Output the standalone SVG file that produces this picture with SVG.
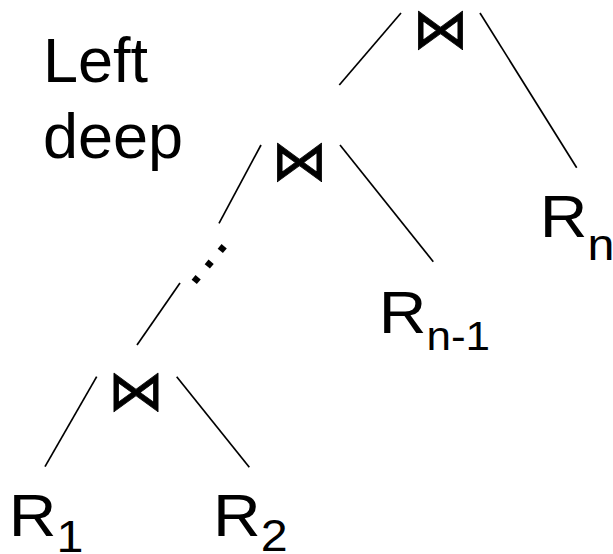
<svg xmlns="http://www.w3.org/2000/svg" width="613" height="554" viewBox="0 0 613 554">
<style>
.t{font-family:"Liberation Sans",Arial,sans-serif;fill:#000}
.j{font-family:"DejaVu Sans",sans-serif;font-size:56px;fill:#000;stroke:#000;stroke-width:0.8;stroke-linejoin:round;text-anchor:middle}
.e{stroke:#000;stroke-width:1.7;fill:none}
</style>
<rect width="613" height="554" fill="#fff"/>
<g id="label">
<text class="t" x="43" y="82" font-size="63">Left</text>
<text class="t" x="43" y="158" font-size="63">deep</text>
</g>
<g id="connectors">
<line class="e" x1="401" y1="13" x2="339.3" y2="85"/>
<line class="e" x1="480" y1="13" x2="576.7" y2="167.7"/>
<line class="e" x1="261" y1="145" x2="219" y2="223.3"/>
<line class="e" x1="340" y1="145" x2="433.3" y2="261.7"/>
<line class="e" x1="180" y1="283" x2="137" y2="345"/>
<line class="e" x1="96.7" y1="376.7" x2="45" y2="466.7"/>
<line class="e" x1="176.7" y1="376.7" x2="249.3" y2="467.3"/>
</g>
<g id="join3"><text class="j" x="440.5" y="48">⋈</text></g>
<g id="join2"><text class="j" x="299.5" y="179.5">⋈</text></g>
<g id="join1"><text class="j" x="136" y="410">⋈</text></g>
<g id="dots"><text class="t" font-size="64" text-anchor="middle" transform="translate(209.3,264) rotate(-50)" y="3.3">…</text></g>
<g id="Rn"><text class="t" font-size="60" transform="translate(539.8,237) scale(1.1,1)">R<tspan font-size="44" dy="23">n</tspan></text></g>
<g id="Rn-1"><text class="t" font-size="60" transform="translate(378.8,333) scale(1.1,1)">R<tspan font-size="40" dy="17">n-1</tspan></text></g>
<g id="R1"><text class="t" font-size="60" transform="translate(8.8,536) scale(1.1,1)">R<tspan font-size="44" dy="16">1</tspan></text></g>
<g id="R2"><text class="t" font-size="60" transform="translate(213.1,536) scale(1.1,1)">R<tspan font-size="44" dy="15">2</tspan></text></g>
</svg>
